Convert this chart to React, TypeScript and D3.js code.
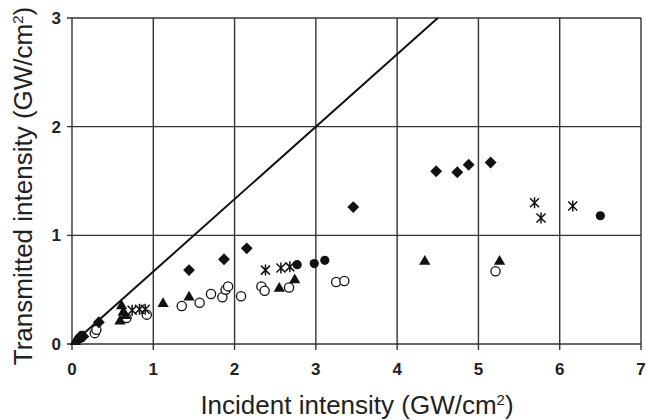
import React from "react";
import * as d3 from "d3";

// series, [incident, transmitted] in GW/cm2
const diamonds: [number, number][] = [
  [0.1, 0.06], [0.14, 0.07], [0.33, 0.2], [1.44, 0.68], [1.87, 0.78], [2.15, 0.88],
  [3.46, 1.26], [4.48, 1.59], [4.74, 1.58], [4.88, 1.65], [5.15, 1.67],
];
const filledCircles: [number, number][] = [
  [0.12, 0.08], [2.77, 0.73], [2.98, 0.74], [3.11, 0.77], [6.5, 1.18],
];
const triangles: [number, number][] = [
  [0.04, 0.02], [0.06, 0.04], [0.09, 0.05], [0.59, 0.21], [0.63, 0.29], [0.66, 0.26],
  [0.61, 0.35], [1.12, 0.37], [1.44, 0.43], [2.55, 0.51], [2.74, 0.59], [4.34, 0.76], [5.26, 0.76],
];
const openCircles: [number, number][] = [
  [0.28, 0.1], [0.3, 0.13], [0.67, 0.24], [0.92, 0.27], [1.35, 0.35], [1.57, 0.38],
  [1.71, 0.46], [1.85, 0.43], [1.89, 0.5], [1.92, 0.53], [2.08, 0.44], [2.33, 0.53],
  [2.37, 0.49], [2.67, 0.52], [3.25, 0.57], [3.35, 0.58], [5.21, 0.67],
];
const asterisks: [number, number][] = [
  [0.74, 0.31], [0.83, 0.32], [0.9, 0.32], [2.38, 0.68], [2.57, 0.7], [2.68, 0.71],
  [5.69, 1.3], [5.77, 1.16], [6.16, 1.27],
];
const xTicks = [0, 1, 2, 3, 4, 5, 6, 7];
const yTicks = [0, 1, 2, 3];
const slope = 2 / 3; // reference line

const W = 646, H = 420;

export default function App() {
  const x = d3.scaleLinear().domain([0, 7]).range([72, 641]);
  const y = d3.scaleLinear().domain([0, 3]).range([344, 18]);
  const diamond = d3.symbol(d3.symbolDiamond2, 90)();
  const tri = d3.symbol(d3.symbolTriangle, 55)();
  const lineEnd = 3 / slope;
  const star = "M-4.5,-4.5L4.5,4.5M-4.5,4.5L4.5,-4.5M0,-5.5L0,5.5";
  const font = "'Liberation Sans', Arial, sans-serif";

  return (
    <svg width={W} height={H} style={{ position: "absolute", left: 0, top: 0, background: "#fff" }}>
      {/* grid */}
      {xTicks.map((t) => (
        <line key={"gx" + t} x1={x(t)} x2={x(t)} y1={y(3)} y2={y(0) + 6} stroke="#333" strokeWidth={1.4} />
      ))}
      {yTicks.map((t) => (
        <line key={"gy" + t} x1={x(0) - 5} x2={x(7)} y1={y(t)} y2={y(t)} stroke="#333" strokeWidth={1.4} />
      ))}
      <line x1={x(0)} x2={x(lineEnd)} y1={y(0)} y2={y(3)} stroke="#111" strokeWidth={2} />

      {/* markers */}
      {openCircles.map((d, i) => (
        <circle key={"o" + i} cx={x(d[0])} cy={y(d[1])} r={4.6} fill="#fff" stroke="#111" strokeWidth={1.3} />
      ))}
      {triangles.map((d, i) => (
        <path key={"t" + i} d={tri} transform={`translate(${x(d[0])},${y(d[1])})`} fill="#111" />
      ))}
      {diamonds.map((d, i) => (
        <path key={"d" + i} d={diamond} transform={`translate(${x(d[0])},${y(d[1])})`} fill="#111" />
      ))}
      {filledCircles.map((d, i) => (
        <circle key={"c" + i} cx={x(d[0])} cy={y(d[1])} r={4.6} fill="#111" />
      ))}
      {asterisks.map((d, i) => (
        <path key={"a" + i} d={star} transform={`translate(${x(d[0])},${y(d[1])})`} stroke="#111" strokeWidth={1.5} fill="none" />
      ))}

      {/* tick labels */}
      {xTicks.map((t) => (
        <text key={"xl" + t} x={x(t)} y={375} textAnchor="middle" fontFamily={font} fontWeight="bold" fontSize={17} fill="#222">
          {t}
        </text>
      ))}
      {yTicks.map((t) => (
        <text key={"yl" + t} x={61} y={y(t)} dy="0.36em" textAnchor="end" fontFamily={font} fontWeight="bold" fontSize={17} fill="#222">
          {t}
        </text>
      ))}

      {/* axis titles */}
      <text x={357} y={414} textAnchor="middle" fontFamily={font} fontSize={26} fill="#222">
        Incident intensity (GW/cm<tspan fontSize={15} dy={-9}>2</tspan><tspan dy={9}>)</tspan>
      </text>
      <text transform="translate(32,186) rotate(-90)" textAnchor="middle" fontFamily={font} fontSize={26} fill="#222">
        Transmitted intensity (GW/cm<tspan fontSize={15} dy={-9}>2</tspan><tspan dy={9}>)</tspan>
      </text>
    </svg>
  );
}
